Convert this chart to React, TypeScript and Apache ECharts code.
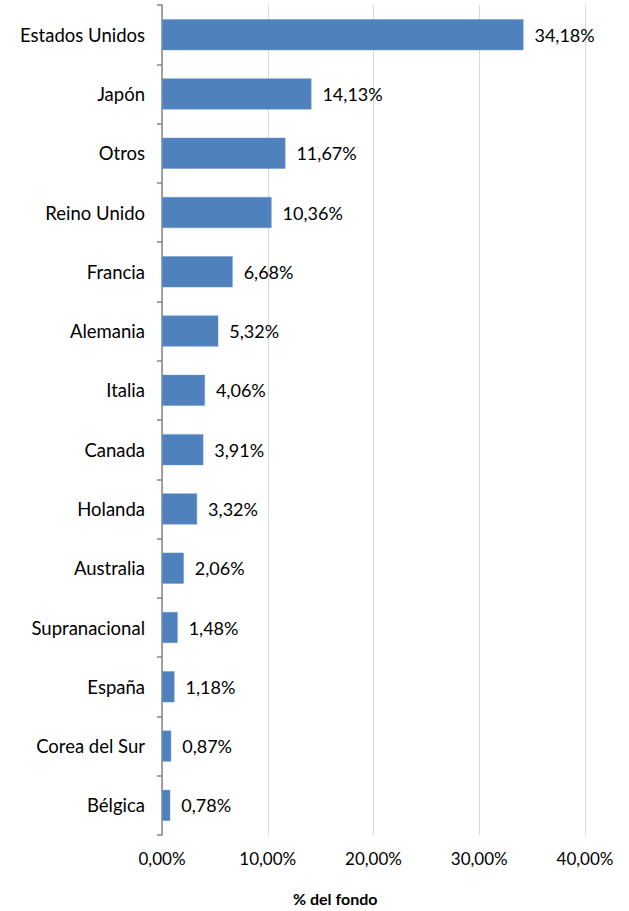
import React, { useEffect, useRef } from "react";
import * as echarts from "echarts";

const categories = [
  "Estados Unidos", "Japón", "Otros", "Reino Unido", "Francia", "Alemania", "Italia",
  "Canada", "Holanda", "Australia", "Supranacional", "España", "Corea del Sur", "Bélgica",
];
const values = [34.18, 14.13, 11.67, 10.36, 6.68, 5.32, 4.06, 3.91, 3.32, 2.06, 1.48, 1.18, 0.87, 0.78];
const axisTitle = "% del fondo";

const fmt = (v: number) => v.toFixed(2).replace(".", ",") + "%";
const FONT = "Lato, 'Open Sans', sans-serif";

export default function App() {
  const ref = useRef<HTMLDivElement>(null);
  useEffect(() => {
    document.body.style.margin = "0";
    const chart = echarts.init(ref.current!, null, { renderer: "svg" });
    chart.setOption({
      animation: false,
      backgroundColor: "#ffffff",
      textStyle: { fontFamily: FONT },
      grid: { left: 162, right: 44, top: 5, bottom: 76, containLabel: false },
      xAxis: {
        type: "value",
        min: 0,
        max: 40,
        interval: 10,
        axisLine: { show: false },
        axisTick: { show: false },
        splitLine: { show: true, lineStyle: { color: "#D9D9D9", width: 1 } },
        axisLabel: { formatter: (v: number) => fmt(v), color: "#000", fontSize: 17, margin: 15, fontFamily: FONT },
      },
      yAxis: {
        type: "category",
        data: categories,
        inverse: true,
        axisLine: { show: true, lineStyle: { color: "#868686", width: 1.5 } },
        axisTick: { show: true, alignWithLabel: false, length: 5, lineStyle: { color: "#868686", width: 1.5 } },
        axisLabel: { color: "#000", fontSize: 18.5, margin: 17, fontFamily: FONT },
        splitLine: { show: false },
      },
      series: [
        {
          type: "bar",
          data: values,
          barWidth: 31,
          itemStyle: { color: "#4F81BD", borderColor: "#6A96CC", borderWidth: 0.5 },
          label: {
            show: true,
            position: "right",
            distance: 11,
            formatter: (p: any) => fmt(p.value),
            color: "#000",
            fontSize: 18,
            fontFamily: FONT,
          },
        },
      ],
      graphic: [
        {
          type: "text",
          left: 293,
          top: 890,
          style: { text: axisTitle, fontSize: 16, fontWeight: "bold", fill: "#000", fontFamily: FONT },
        },
      ],
    });
    return () => chart.dispose();
  }, []);
  return <div ref={ref} style={{ width: 629, height: 911 }} />;
}
